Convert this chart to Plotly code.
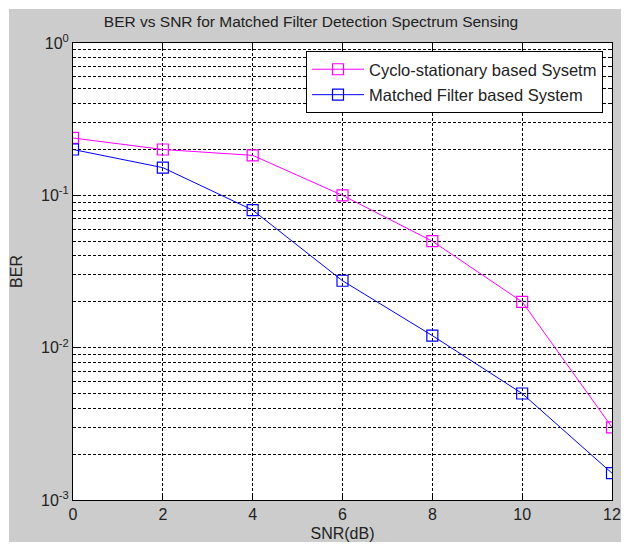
import plotly.graph_objects as go

snr = [0, 2, 4, 6, 8, 10, 12]
ber_cyclo = [0.238, 0.2, 0.183, 0.1, 0.05, 0.02, 0.003]
ber_matched = [0.2, 0.152, 0.08, 0.0275, 0.012, 0.005, 0.0015]
names = ["Cyclo-stationary based Sysetm", "Matched Filter based System"]
x_ticks = [0, 2, 4, 6, 8, 10, 12]
y_ticks = [1e-3, 1e-2, 1e-1, 1]
y_ticktext = ["10<sup>-3</sup>", "10<sup>-2</sup>", "10<sup>-1</sup>", "10<sup>0</sup>"]
y_minor = [m * 10.0 ** e for e in (-3, -2, -1) for m in range(2, 10)]

# the page body adds an 8px margin on every side, so work in page pixels minus 8
OFF = 8
W, H = 629 - 2 * OFF, 550 - 2 * OFF
L, R, T, B = 73 - OFF, 612 - OFF, 43 - OFF, 500 - OFF


def px(x):
    return (x - OFF - L) / (R - L)


def py(y):
    return (B - (y - OFF)) / (B - T)


fig = go.Figure()
fig.add_trace(go.Scatter(
    x=snr, y=ber_cyclo, name=names[0], mode="lines+markers", legendgroup="a",
    line=dict(color="#FF00FF", width=1),
    marker=dict(symbol="square-open", size=11, color="#FF00FF", line=dict(width=1.2)),
))
fig.add_trace(go.Scatter(
    x=snr, y=ber_matched, name=names[1], mode="lines+markers", legendgroup="b",
    line=dict(color="#0000FF", width=1),
    marker=dict(symbol="square-open", size=11, color="#0000FF", line=dict(width=1.2)),
))

font = "Liberation Sans, Arial, sans-serif"
grid = dict(showgrid=True, gridcolor="black", gridwidth=1, griddash="3px,2px")

fig.update_layout(
    width=W, height=H,
    margin=dict(l=L, r=W - R, t=T, b=H - B, pad=0, autoexpand=False),
    paper_bgcolor="#CCCCCC",
    plot_bgcolor="white",
    font=dict(family=font, size=16, color="#222222"),
    title=dict(text="BER vs SNR for Matched Filter Detection Spectrum Sensing",
               x=(311 - OFF) / W, xanchor="center", y=1 - (22 - OFF) / H, yanchor="middle",
               font=dict(size=15.5, family=font, color="#222222")),
    showlegend=True,
    legend=dict(x=px(306), y=py(51), xanchor="left", yanchor="top",
                bgcolor="white", bordercolor="black", borderwidth=1,
                font=dict(size=16.5, family=font, color="#222222"),
                itemwidth=52, traceorder="grouped", tracegroupgap=1),
    xaxis=dict(
        automargin=False,
        range=[0, 12], tickvals=x_ticks, ticks="inside", ticklen=5, tickcolor="black",
        showline=True, linecolor="black", linewidth=1, mirror="ticks",
        zeroline=False, title=dict(text="SNR(dB)", standoff=6, font=dict(size=16)),
        tickfont=dict(size=16), **grid,
    ),
    yaxis=dict(
        automargin=False,
        type="log", range=[-3, 0], tickvals=y_ticks, ticktext=y_ticktext,
        ticks="inside", ticklen=5, tickcolor="black",
        showline=True, linecolor="black", linewidth=1, mirror="ticks",
        zeroline=False, title=dict(text="BER", standoff=16, font=dict(size=16)),
        tickfont=dict(size=16), **grid,
        minor=dict(tickvals=y_minor, showgrid=True, gridcolor="black", gridwidth=1,
                   griddash="3px,2px", ticks="inside", ticklen=3, tickcolor="black"),
    ),
    shapes=[
        dict(type="rect", xref="paper", yref="paper", x0=px(0), x1=px(630), y0=py(9), y1=py(0),
             fillcolor="white", line=dict(width=0), layer="above"),
        dict(type="rect", xref="paper", yref="paper", x0=px(0), x1=px(9), y0=py(560), y1=py(0),
             fillcolor="white", line=dict(width=0), layer="above"),
    ],
)

fig.write_html("out.html")
